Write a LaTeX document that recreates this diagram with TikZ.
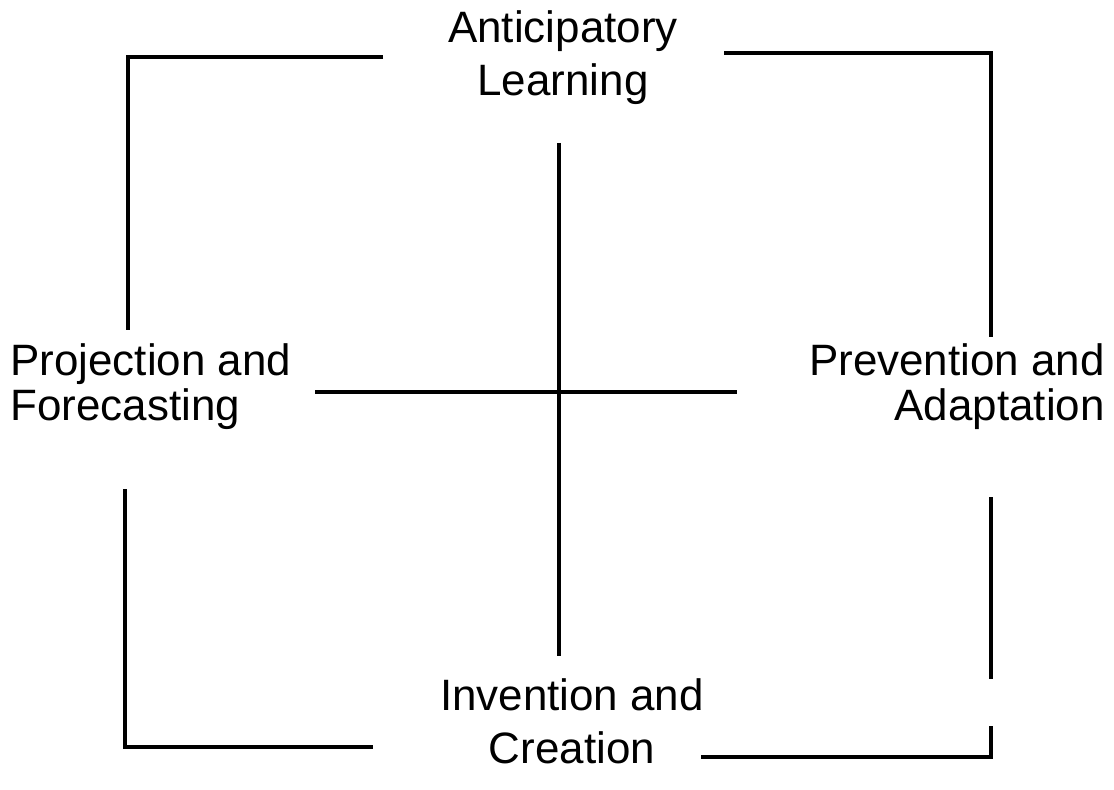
\documentclass[tikz,border=0pt]{standalone}
\usepackage{fontspec}
\setmainfont{Liberation Sans}
\usetikzlibrary{positioning}

\begin{document}
\begin{tikzpicture}[
        lbl/.style={inner sep=0pt, font=\fontsize{25}{30}\selectfont},
        side/.style={lbl, font=\fontsize{25}{25.6}\selectfont},
        wire/.style={line width=2.3pt, black},
      ]
        \useasboundingbox (0,0) rectangle (22.28,15.78);

        \node[lbl, align=center] (learn) at (11.26,14.62) {Anticipatory\\Learning};
        \node[side, align=left, anchor=west] (proj) at (0.20,8.04) {Projection and\\Forecasting};
        \node[side, align=right, anchor=east] (prev) at (22.10,8.04) {Prevention and\\Adaptation};
        \node[lbl, align=center] (invent) at (11.44,1.36) {Invention and\\Creation};

        \coordinate (tl-a) at (7.66,14.64);
        \coordinate (tl-b) at (2.56,9.18);
        \coordinate (tr-a) at (14.48,14.72);
        \coordinate (tr-b) at (19.82,9.04);
        \coordinate (bl-a) at (2.50,6.00);
        \coordinate (bl-b) at (7.46,0.84);
        \coordinate (br-a) at (19.82,5.84);
        \coordinate (br-b) at (19.82,2.20);
        \coordinate (br-c) at (19.82,1.26);
        \coordinate (br-d) at (14.02,0.64);
        \coordinate (vt) at (11.18,12.92);
        \coordinate (vb) at (11.18,2.66);
        \coordinate (hl) at (6.30,7.94);
        \coordinate (hr) at (14.74,7.94);

        \draw[wire] (tl-a) -| (tl-b);
        \draw[wire] (tr-a) -| (tr-b);
        \draw[wire] (bl-a) |- (bl-b);
        \draw[wire] (br-a) -- (br-b);
        \draw[wire] (br-c) |- (br-d);

        \draw[wire] (vt) -- (vb);
        \draw[wire] (hl) -- (hr);
      \end{tikzpicture}
\end{document}
